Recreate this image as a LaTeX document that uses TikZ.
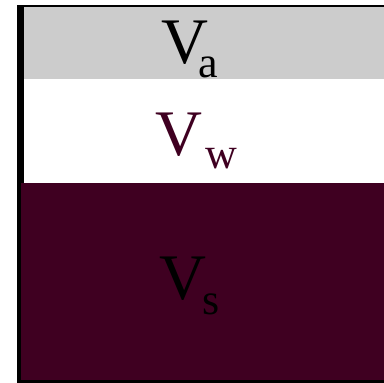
\documentclass[tikz,border=0pt]{standalone}
\usepackage{fontspec}
\setmainfont{Liberation Serif}
\definecolor{soil}{RGB}{63,0,33}
\definecolor{airgray}{RGB}{204,204,204}
\tikzset{
  bigV/.style={anchor=base west, inner sep=0pt, font=\fontsize{65}{70}\selectfont},
  sub/.style={anchor=base west, inner sep=0pt, font=\fontsize{44}{48}\selectfont}
}
\begin{document}
\begin{tikzpicture}[x=1pt,y=-1pt]
\useasboundingbox (0,0) rectangle (384,383);
\fill[white] (0,0) rectangle (384,383);
% left and top black lines
\fill[black] (17,5) rectangle (24,382.5);
\fill[black] (17,5) rectangle (384,7.3);
% gray air layer
\fill[airgray] (24,7.3) rectangle (384,79);
% maroon solid layer
\fill[soil] (21,183) rectangle (384,380);
% bottom line
\fill[black] (17,380) rectangle (384,382.5);
% labels
\node[bigV] (va) at (161,63) {V};
\node[sub] (vas) at (198.4,77) {a};
\node[bigV, text=soil] (vw) at (155,155) {V};
\node[sub, text=soil] (vws) at (205,168) {w};
\node[bigV] (vs) at (159,299) {V};
\node[sub] (vss) at (202,314) {s};
\end{tikzpicture}
\end{document}
